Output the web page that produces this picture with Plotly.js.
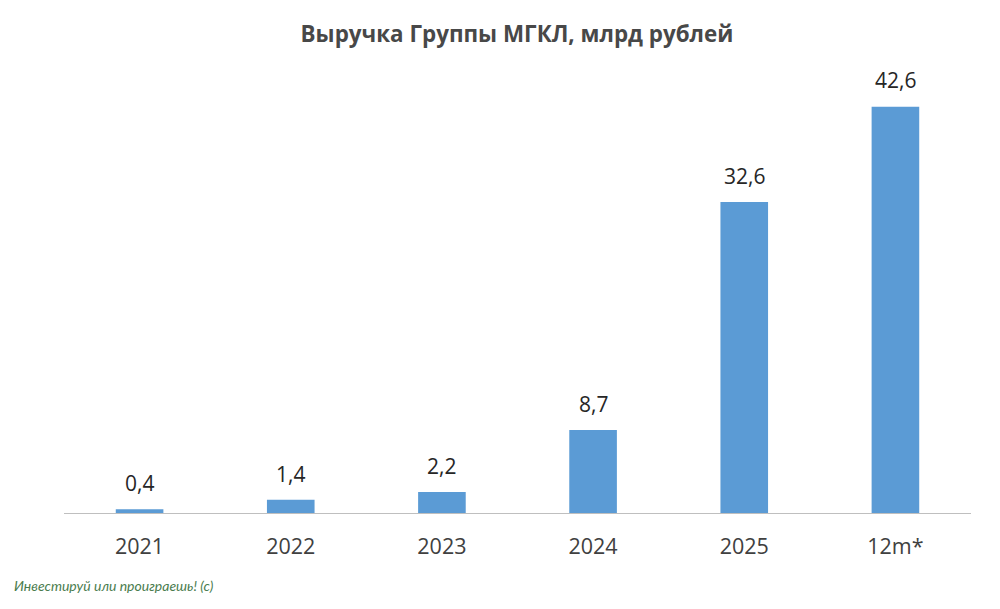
<!DOCTYPE html>
<html><head><meta charset="utf-8"><script src="https://cdn.plot.ly/plotly-3.0.1.min.js"></script>
<style>html,body{margin:0;padding:0;background:#fff}</style></head><body><div id="c" style="width:1000px;height:609px"></div>
<script>
const categories=["2021","2022","2023","2024","2025","12m*"];
const values=[0.4,1.4,2.2,8.7,32.6,42.6];
const labels=["0,4","1,4","2,2","8,7","32,6","42,6"];
const titleText="Выручка Группы МГКЛ, млрд рублей";
const credit="Инвестируй или проиграешь! (с)";
const valueNotes=categories.map((c,i)=>({text:labels[i],x:i,y:values[i],xref:"x",yref:"y",xanchor:"center",yanchor:"bottom",yshift:10,showarrow:false,
 font:{family:"Open Sans, Noto Sans",size:21,color:"#262626"}}));
Plotly.newPlot("c",[{type:"bar",x:categories,y:values,cliponaxis:false,marker:{color:"#5B9BD5"},width:0.315,hoverinfo:"skip"}],
{width:1000,height:609,margin:{l:64,r:29,t:0,b:0},paper_bgcolor:"#fff",plot_bgcolor:"#fff",showlegend:false,
title:{text:titleText,x:0.517,xanchor:"center",y:0.944,yanchor:"middle",font:{family:"Open Sans, Noto Sans",size:22.4,weight:700,color:"#484848"}},
xaxis:{type:"category",categoryorder:"array",categoryarray:categories,range:[-0.5,5.5],domain:[0,1],showgrid:false,showline:true,linecolor:"#BFBFBF",linewidth:1,ticks:"",ticklabelstandoff:14,tickfont:{family:"Open Sans, Noto Sans",size:21.5,color:"#404040"}},
yaxis:{domain:[0.1576,0.8252],range:[0,42.6],visible:false},
annotations:valueNotes.concat([{text:"<i>"+credit+"</i>",xref:"paper",yref:"paper",x:-0.0573,y:0.0378,xanchor:"left",yanchor:"middle",showarrow:false,font:{family:"Lato, Noto Sans",size:14,color:"#4A7C4E"}}])
},{displayModeBar:false,staticPlot:true});
</script></body></html>
